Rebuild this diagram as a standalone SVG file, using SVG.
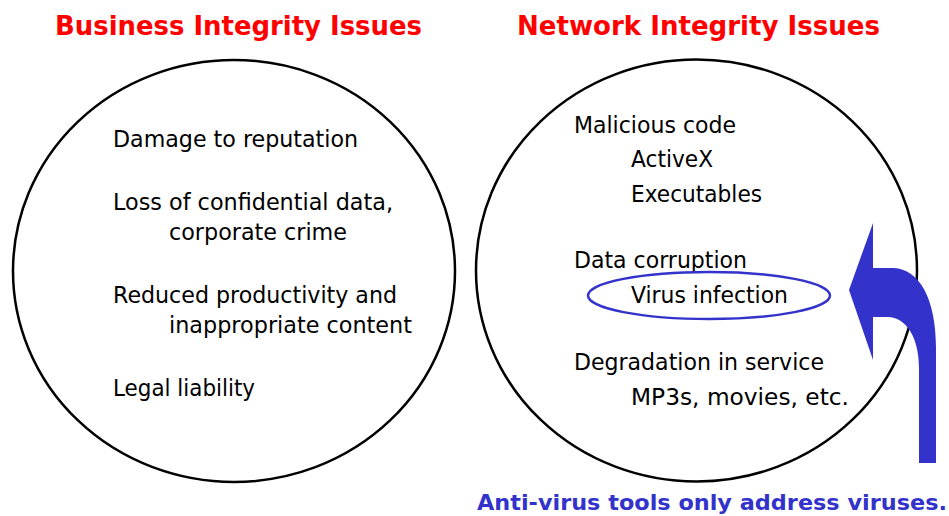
<svg xmlns="http://www.w3.org/2000/svg" width="949" height="516" viewBox="0 0 949 516">
  <style>
    .title { font-family: "DejaVu Sans", Verdana, sans-serif; font-weight: bold; font-size: 27px; fill: #ff0000; }
    .item { font-family: "DejaVu Sans", Tahoma, sans-serif; font-size: 23px; fill: #000000; }
    .ring { fill: none; stroke: #000000; stroke-width: 2.5; }
    .note { font-family: "DejaVu Sans", Verdana, sans-serif; font-weight: bold; font-size: 22px; fill: #3333cc; }
  </style>
  <rect width="949" height="516" fill="#ffffff"/>

  <g id="business">
    <text class="title" x="55" y="35" textLength="367" lengthAdjust="spacingAndGlyphs">Business Integrity Issues</text>
    <ellipse class="ring" cx="234" cy="271" rx="221" ry="211"/>
    <text class="item" x="113" y="147" textLength="245" lengthAdjust="spacingAndGlyphs">Damage to reputation</text>
    <text class="item" x="113" y="210" textLength="280" lengthAdjust="spacingAndGlyphs">Loss of confidential data,</text>
    <text class="item" x="169" y="240" textLength="178" lengthAdjust="spacingAndGlyphs">corporate crime</text>
    <text class="item" x="113" y="303" textLength="284" lengthAdjust="spacingAndGlyphs">Reduced productivity and</text>
    <text class="item" x="169" y="333" textLength="243" lengthAdjust="spacingAndGlyphs">inappropriate content</text>
    <text class="item" x="113" y="396" textLength="142" lengthAdjust="spacingAndGlyphs">Legal liability</text>
  </g>

  <g id="network">
    <text class="title" x="517" y="35" textLength="363" lengthAdjust="spacingAndGlyphs">Network Integrity Issues</text>
    <ellipse class="ring" cx="696.5" cy="270.5" rx="220.5" ry="211"/>
    <text class="item" x="574" y="133" textLength="162" lengthAdjust="spacingAndGlyphs">Malicious code</text>
    <text class="item" x="631" y="167" textLength="82" lengthAdjust="spacingAndGlyphs">ActiveX</text>
    <text class="item" x="631" y="202" textLength="131" lengthAdjust="spacingAndGlyphs">Executables</text>
    <text class="item" x="574" y="268" textLength="173" lengthAdjust="spacingAndGlyphs">Data corruption</text>
    <text class="item" x="574" y="370" textLength="250" lengthAdjust="spacingAndGlyphs">Degradation in service</text>
    <text class="item" x="631" y="405" textLength="218" lengthAdjust="spacingAndGlyphs">MP3s, movies,  etc.</text>
  </g>

  <g id="virus">
    <ellipse cx="709" cy="295.5" rx="121" ry="23.5" fill="none" stroke="#3333cc" stroke-width="2.5"/>
    <text class="item" x="631" y="303" textLength="157" lengthAdjust="spacingAndGlyphs">Virus infection</text>
  </g>

  <g id="connectors">
    <path d="M 849 290 L 873 223 L 873 268 L 892 268 C 920 268 936 300 936 348 L 936 463 L 919 463 L 919 368 C 919 336 905 317 888 317 L 873 317 L 873 360 Z" fill="#3333cc"/>
  </g>

  <g id="caption">
    <text class="note" x="477" y="510" textLength="470" lengthAdjust="spacingAndGlyphs">Anti-virus tools only address viruses.</text>
  </g>
</svg>
